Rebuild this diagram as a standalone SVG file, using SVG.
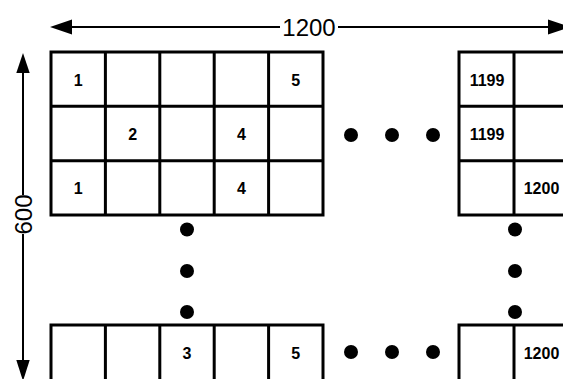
<svg xmlns="http://www.w3.org/2000/svg" width="563" height="379" viewBox="0 0 563 379">
  <style>
    .grid { fill: #ffffff; stroke: #000000; stroke-width: 3; }
    .gl { stroke: #000000; stroke-width: 3; fill: none; }
    .lbl { font-family: "Liberation Sans", Arial, sans-serif; font-weight: bold; font-size: 16px; fill: #000000; text-anchor: middle; }
    .dim { font-family: "Liberation Sans", Arial, sans-serif; font-size: 24px; fill: #000000; text-anchor: middle; }
    .ax { stroke: #000000; stroke-width: 2; fill: none; }
    .dot { fill: #000000; }
    .head { fill: #000000; }
  </style>
  <rect width="563" height="379" fill="#ffffff"/>

  <g id="grid-top-left">
    <rect class="grid" x="51" y="52" width="272" height="163"/>
    <path class="gl" d="M105.4 52V215M159.8 52V215M214.2 52V215M268.6 52V215M51 106.3H323M51 160.7H323"/>
    <text class="lbl" x="78.2" y="85.5">1</text>
    <text class="lbl" x="295.8" y="85.5">5</text>
    <text class="lbl" x="132.6" y="139.8">2</text>
    <text class="lbl" x="241.4" y="139.8">4</text>
    <text class="lbl" x="78.2" y="194">1</text>
    <text class="lbl" x="241.4" y="194">4</text>
  </g>

  <g id="grid-top-right">
    <rect class="grid" x="459" y="52" width="110" height="163"/>
    <path class="gl" d="M514 52V215M459 106.3H569M459 160.7H569"/>
    <text class="lbl" x="487" y="85.5">1199</text>
    <text class="lbl" x="487" y="139.8">1199</text>
    <text class="lbl" x="541.5" y="194">1200</text>
  </g>

  <g id="grid-bottom-left">
    <rect class="grid" x="51" y="325" width="272" height="70"/>
    <path class="gl" d="M105.4 325V395M159.8 325V395M214.2 325V395M268.6 325V395"/>
    <text class="lbl" x="187" y="358.5">3</text>
    <text class="lbl" x="295.8" y="358.5">5</text>
  </g>

  <g id="grid-bottom-right">
    <rect class="grid" x="459" y="325" width="110" height="70"/>
    <path class="gl" d="M514 325V395"/>
    <text class="lbl" x="541.5" y="358.5">1200</text>
  </g>

  <g id="ellipses">
    <circle class="dot" cx="351" cy="135" r="7"/>
    <circle class="dot" cx="392" cy="135" r="7"/>
    <circle class="dot" cx="433" cy="135" r="7"/>
    <circle class="dot" cx="351" cy="352" r="7"/>
    <circle class="dot" cx="392" cy="352" r="7"/>
    <circle class="dot" cx="433" cy="352" r="7"/>
    <circle class="dot" cx="187" cy="229.5" r="7"/>
    <circle class="dot" cx="187" cy="271" r="7"/>
    <circle class="dot" cx="187" cy="312" r="7"/>
    <circle class="dot" cx="515" cy="229.5" r="7"/>
    <circle class="dot" cx="515" cy="271" r="7"/>
    <circle class="dot" cx="515" cy="312" r="7"/>
  </g>

  <g id="connectors">
    <g id="dim-width">
      <path class="ax" d="M70 27H280M338 27H550"/>
      <polygon class="head" points="50,27 72,19.5 72,34.5"/>
      <polygon class="head" points="570,27 548,19.5 548,34.5"/>
      <text class="dim" x="309" y="35.5">1200</text>
    </g>
    <g id="dim-height">
      <path class="ax" d="M23 71V195M23 234V361"/>
      <polygon class="head" points="23,53 16.3,73 29.7,73"/>
      <polygon class="head" points="23,381 16.3,360 29.7,360"/>
      <text class="dim" transform="translate(31.5 214.5) rotate(-90)" x="0" y="0">600</text>
    </g>
  </g>
</svg>
